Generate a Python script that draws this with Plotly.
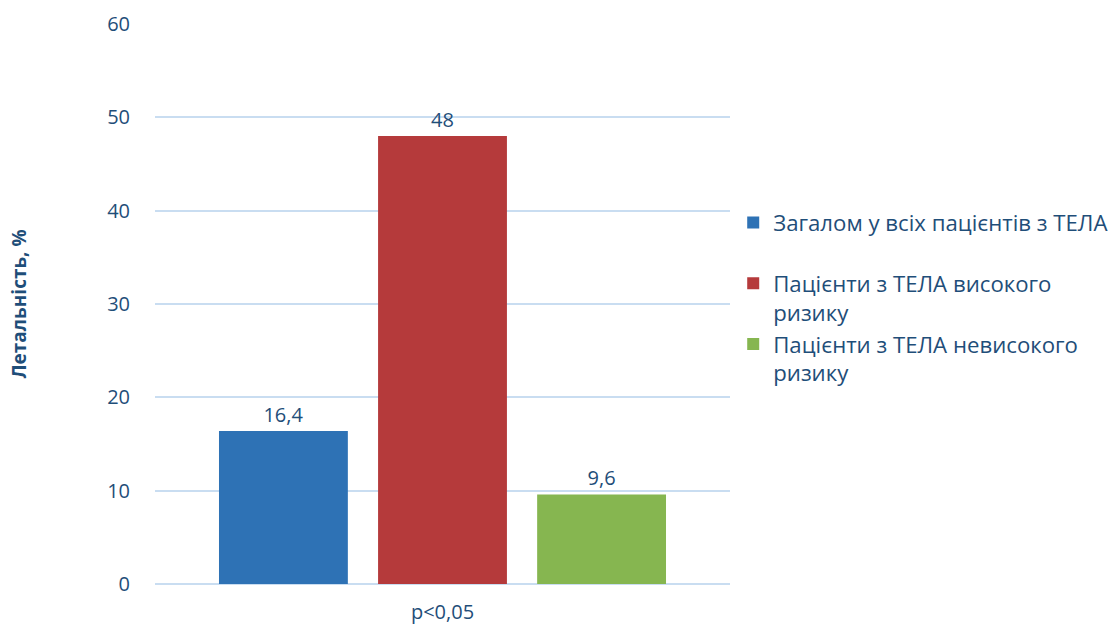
import plotly.graph_objects as go

# Летальність за групами пацієнтів з ТЕЛА
categories = ["p<0,05"]
series_names = [
    "Загалом у всіх пацієнтів з ТЕЛА",
    "Пацієнти з ТЕЛА високого<br>ризику",
    "Пацієнти з ТЕЛА невисокого<br>ризику",
]
series_values = [16.4, 48, 9.6]
series_colors = ["#2E72B5", "#B53A3B", "#86B650"]
y_ticks = [0, 10, 20, 30, 40, 50, 60]

TEXT_COLOR = "#1F4E79"
FONT = "Open Sans"


def label(v):
    return f"{v:g}".replace(".", ",")


fig = go.Figure()
for i, (name, val, col) in enumerate(zip(series_names, series_values, series_colors)):
    # extra blank line after the first legend entry
    legend_name = name + ("<br>&nbsp;" if i == 0 else "")
    fig.add_trace(go.Bar(
        x=categories,
        y=[val],
        name=legend_name,
        marker=dict(color=col, line=dict(width=0)),
        text=[label(val)],
        textposition="outside",
        textfont=dict(color=TEXT_COLOR, size=20, family=FONT),
        cliponaxis=False,
    ))

fig.update_layout(
    width=1116,
    height=624,
    margin=dict(l=155, r=386, t=24, b=40, autoexpand=False),
    paper_bgcolor="white",
    plot_bgcolor="white",
    barmode="group",
    bargap=0.17,
    bargroupgap=0.19,
    font=dict(family=FONT, color=TEXT_COLOR, size=20),
    showlegend=True,
    legend=dict(
        xref="container", yref="container",
        x=0.657, y=0.677, xanchor="left", yanchor="top",
        valign="top",
        font=dict(size=22.2, color=TEXT_COLOR, family=FONT),
        bgcolor="rgba(0,0,0,0)",
        tracegroupgap=0,
    ),
    xaxis=dict(
        automargin=False,
        showgrid=False, showline=False, zeroline=False,
        ticks="outside", ticklen=10, tickcolor="rgba(0,0,0,0)",
        tickfont=dict(size=20, color=TEXT_COLOR),
    ),
    yaxis=dict(
        automargin=False,
        range=[0, 60],
        tickvals=y_ticks,
        showgrid=True, gridcolor="#C9DDF1", gridwidth=2,
        zeroline=True, zerolinecolor="#C9DDF1", zerolinewidth=2,
        showline=False,
        ticks="outside", ticklen=20, tickcolor="rgba(0,0,0,0)",
        tickfont=dict(size=20, color=TEXT_COLOR),
        title=dict(
            text="<b>Летальність, %</b>",
            font=dict(size=19, color=TEXT_COLOR, family=FONT),
            standoff=75,
        ),
    ),
)

fig.write_html("out.html")
